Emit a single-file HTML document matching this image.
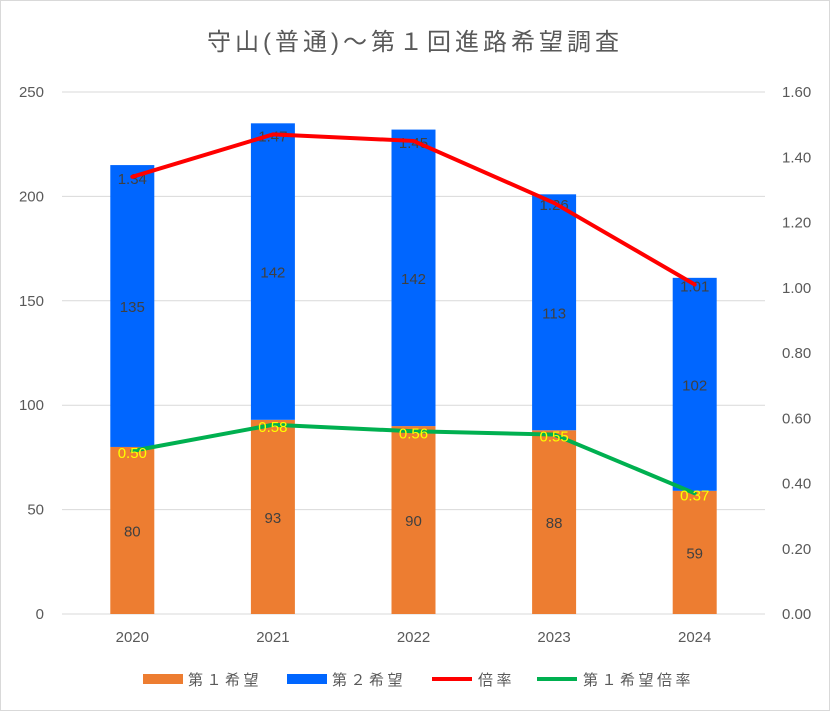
<!DOCTYPE html>
<html><head><meta charset="utf-8"><style>
body{margin:0;background:#fff}
svg{display:block;font-family:"Liberation Sans","Noto Sans CJK JP",sans-serif}
</style></head><body>
<svg id="c" width="830" height="711" viewBox="0 0 830 711">
<rect x="0.5" y="0.5" width="829" height="710" fill="#fff" stroke="#d9d9d9"/>
<text x="415" y="50" text-anchor="middle" font-size="24" letter-spacing="4" fill="#595959">守山(普通)～第１回進路希望調査</text>
<g id="grid"></g><g id="bars"></g><g id="lbl1"></g><g id="lines"></g><g id="lbl2"></g><g id="axes"></g>
<g font-size="15" fill="#595959" letter-spacing="3.5">
<rect x="143" y="674" width="40" height="10" fill="#ed7d31"/>
<text x="188" y="685">第１希望</text>
<rect x="287" y="674" width="40" height="10" fill="#0066ff"/>
<text x="332" y="685">第２希望</text>
<line x1="432" y1="679" x2="472" y2="679" stroke="#ff0000" stroke-width="4"/>
<text x="478" y="685">倍率</text>
<line x1="537" y1="679" x2="577" y2="679" stroke="#00b050" stroke-width="4"/>
<text x="583" y="685">第１希望倍率</text>
</g>
</svg>
<script>
const years=["2020","2021","2022","2023","2024"];
const first=[80,93,90,88,59];
const second=[135,142,142,113,102];
const ratio=[1.34,1.47,1.45,1.26,1.01];
const firstRatio=[0.50,0.58,0.56,0.55,0.37];
const leftTicks=[0,50,100,150,200,250];
const rightTicks=["0.00","0.20","0.40","0.60","0.80","1.00","1.20","1.40","1.60"];
const NS="http://www.w3.org/2000/svg";
const y0=614,yTop=92,x0=62,x1=765,bw=44;
const yL=v=>y0-(v/250)*(y0-yTop);
const yR=v=>y0-(v/1.6)*(y0-yTop);
const xC=i=>x0+(x1-x0)/years.length*(i+0.5);
function mk(p,t,a){const e=document.createElementNS(NS,t);for(const k in a)e.setAttribute(k,a[k]);document.getElementById(p).appendChild(e);return e;}
leftTicks.forEach(v=>{
 const l=mk('grid','line',{x1:x0,x2:x1,y1:yL(v),y2:yL(v),stroke:'#d9d9d9','stroke-width':1});
 
 
 const t=mk('axes','text',{x:44,y:yL(v)+5,'text-anchor':'end','font-size':15,fill:'#595959'});t.textContent=v;
 
 
});
rightTicks.forEach(s=>{
 const t=mk('axes','text',{x:782,y:yR(+s)+5,'font-size':15,fill:'#595959'});t.textContent=s;
 
 
});
years.forEach((y,i)=>{
 const cx=xC(i);
 const t=mk('axes','text',{x:cx,y:642,'text-anchor':'middle','font-size':15,fill:'#595959'});t.textContent=y;
 
 
 const b1=mk('bars','rect',{x:cx-bw/2,y:yL(first[i]),width:bw,height:y0-yL(first[i]),fill:'#ed7d31'});
 
 
 const b2=mk('bars','rect',{x:cx-bw/2,y:yL(first[i]+second[i]),width:bw,height:yL(first[i])-yL(first[i]+second[i]),fill:'#0066ff'});
 
 
 const l1=mk('lbl1','text',{x:cx,y:(y0+yL(first[i]))/2+6,'text-anchor':'middle','font-size':15,fill:'#404040'});l1.textContent=first[i];
 
 
 const l2=mk('lbl1','text',{x:cx,y:(yL(first[i])+yL(first[i]+second[i]))/2+6,'text-anchor':'middle','font-size':15,fill:'#404040'});l2.textContent=second[i];
 
 
 const l3=mk('lbl1','text',{x:cx,y:yR(ratio[i])+7,'text-anchor':'middle','font-size':15,fill:'#404040'});l3.textContent=ratio[i].toFixed(2);
 
 
 const l4=mk('lbl2','text',{x:cx,y:yR(firstRatio[i])+7,'text-anchor':'middle','font-size':15,fill:'#ffff00'});l4.textContent=firstRatio[i].toFixed(2);
 
 
});
const p1=mk('lines','polyline',{points:ratio.map((v,i)=>xC(i)+','+yR(v)).join(' '),fill:'none',stroke:'#ff0000','stroke-width':4,'stroke-linejoin':'round','stroke-linecap':'round'});


const p2=mk('lines','polyline',{points:firstRatio.map((v,i)=>xC(i)+','+yR(v)).join(' '),fill:'none',stroke:'#00b050','stroke-width':4,'stroke-linejoin':'round','stroke-linecap':'round'});


</script>
</body></html>
